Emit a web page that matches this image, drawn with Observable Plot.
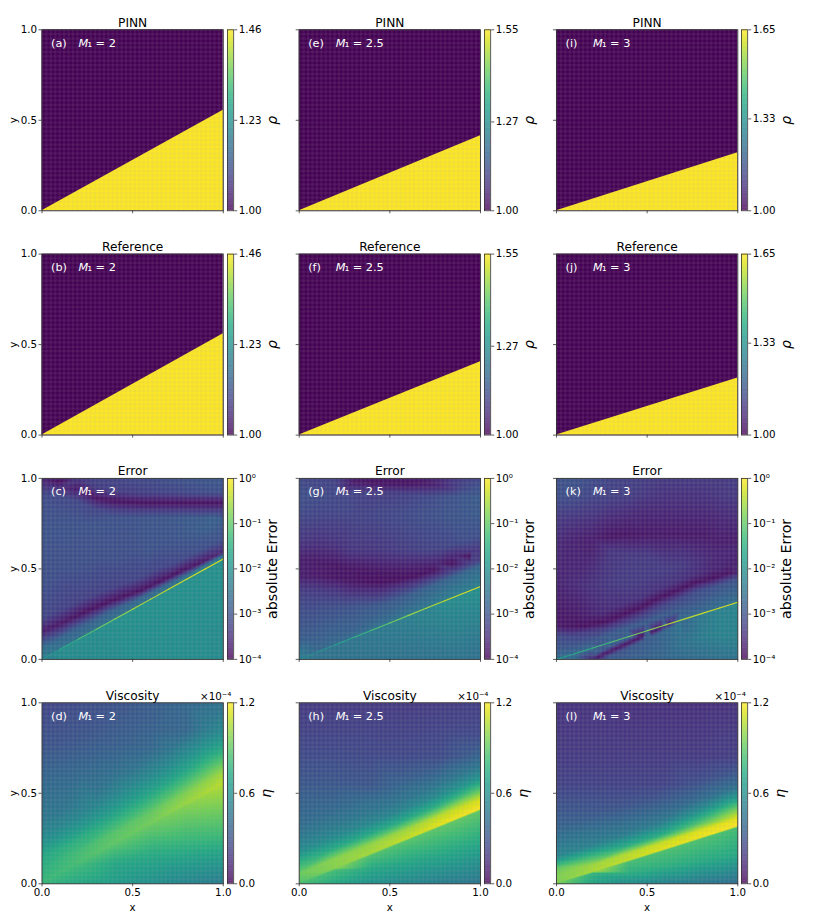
<!DOCTYPE html>
<html><head><meta charset="utf-8">
<script src="https://cdn.jsdelivr.net/npm/d3@7"></script>
<script src="https://cdn.jsdelivr.net/npm/@observablehq/plot@0.6"></script>
<style>
html,body{margin:0;padding:0;background:#fff}
#chart{position:relative;width:830px;height:913px;overflow:hidden;font-family:"DejaVu Sans",sans-serif}
#chart svg{position:absolute;overflow:visible}
</style></head><body><div id="chart"></div>
<script>
// ---- layout text ----
const columnMach = ["2", "2.5", "3"];
const panelLetters = [["a","b","c","d"],["e","f","g","h"],["i","j","k","l"]];
const rowTitles = ["PINN","Reference","Error","Viscosity"];
const axisTicks = [0, 0.5, 1];

// ---- density panels ----
const pinnShock = [0.555, 0.415, 0.32];
const referenceShock = [0.56, 0.405, 0.315];
const rhoMax = [1.46, 1.55, 1.65];
const rhoTicks = [[1.00,1.23,1.46],[1.00,1.27,1.55],[1.00,1.33,1.65]];

// ---- error panels: log10(absolute error), sampled in columns ----
const errorX = [0,.1,.2,.3,.4,.5,.6,.7,.8,.9,1];
const errorShock = [0.555, 0.403, 0.316];
const errorTicks = [-4,-3,-2,-1,0];
const errorTickText = ["10⁻⁴","10⁻³","10⁻²","10⁻¹","10⁰"];

const errorRowsC = [
 [.05,-2.55,.115,-3.6,.18,-3.15,.4,-3.05,.7,-3,.9,-3.1,.96,-3.4,1,-3.6],
 [.1,-2.7,.17,-3.75,.24,-3.2,.5,-3.05,.75,-3,.9,-3.15,.95,-3.5,.99,-3.9],
 [.16,-2.8,.215,-3.8,.28,-3.25,.5,-3.05,.75,-3,.87,-3.15,.94,-3.75,1,-3.4],
 [.21,-2.8,.265,-3.85,.33,-3.25,.55,-3.05,.75,-3,.83,-3.2,.89,-3.8,.95,-3.3,1,-3.2],
 [.265,-2.8,.31,-3.85,.37,-3.25,.55,-3.05,.78,-3,.825,-3.3,.875,-3.85,.93,-3.3,1,-3.2],
 [.31,-2.75,.35,-3.85,.41,-3.25,.6,-3.05,.78,-3,.82,-3.3,.87,-3.85,.92,-3.3,1,-3.15],
 [.36,-2.7,.39,-3.85,.45,-3.2,.6,-3,.78,-2.95,.82,-3.3,.865,-3.85,.92,-3.25,1,-3.1],
 [.41,-2.65,.44,-3.85,.5,-3.2,.65,-3,.78,-2.95,.82,-3.3,.865,-3.85,.92,-3.2,1,-3.05],
 [.46,-2.6,.49,-3.85,.54,-3.15,.68,-2.95,.78,-2.9,.82,-3.3,.865,-3.85,.92,-3.15,1,-3],
 [.515,-2.6,.535,-3.8,.59,-3.1,.7,-2.9,.78,-2.85,.82,-3.3,.865,-3.85,.92,-3.1,1,-2.95],
 [.57,-2.6,.585,-3.6,.64,-3.05,.72,-2.85,.78,-2.8,.82,-3.3,.865,-3.85,.92,-3.05,1,-2.9]
];
const errorAboveC = [-2.3,-2.5,-2.55,-2.55,-2.55,-2.55,-2.55,-2.55,-2.5,-2.5,-2.5];
const errorBelowC = [-2.15,-2.05,-2.05,-2.05,-2,-2,-2,-2,-2,-2,-2];
const errorFloorC = [-2.15,-2.1,-2.1,-2.1,-2.1,-2.05,-2.05,-2.05,-2.05,-2.05,-2.1];
const errorLineC = [-2,-1.6,-1.2,-.9,-.7,-.5,-.4,-.3,-.25,-.2,-.2];

const errorRowsG = [
 [.1,-2.85,.25,-3.05,.38,-3.3,.46,-3.7,.55,-3.7,.65,-3.4,.8,-3.15,.9,-3.05,1,-3.15],
 [.12,-2.85,.28,-3.1,.38,-3.35,.46,-3.75,.54,-3.75,.65,-3.45,.8,-3.2,.9,-3.1,1,-3.2],
 [.14,-2.8,.28,-3.05,.38,-3.4,.45,-3.8,.52,-3.8,.63,-3.45,.8,-3.2,.9,-3.15,1,-3.25],
 [.16,-2.8,.28,-3,.36,-3.4,.43,-3.8,.5,-3.8,.6,-3.4,.8,-3.2,.92,-3.2,.98,-3.75,1,-3.7],
 [.2,-2.75,.29,-2.95,.36,-3.4,.43,-3.85,.49,-3.8,.6,-3.4,.8,-3.2,.92,-3.3,.98,-3.85,1,-3.75],
 [.24,-2.7,.3,-2.9,.36,-3.4,.425,-3.85,.48,-3.8,.6,-3.35,.8,-3.15,.92,-3.3,.975,-3.85,1,-3.7],
 [.28,-2.65,.34,-2.9,.39,-3.4,.44,-3.85,.49,-3.75,.6,-3.3,.8,-3.1,.91,-3.25,.975,-3.85,1,-3.7],
 [.32,-2.6,.38,-2.85,.42,-3.4,.46,-3.85,.51,-3.7,.6,-3.25,.8,-3.05,.9,-3.15,.97,-3.75,1,-3.7],
 [.37,-2.55,.42,-2.8,.45,-3.3,.49,-3.85,.53,-3.65,.62,-3.2,.8,-3,.9,-3.05,.95,-3.5,1,-3.5],
 [.41,-2.5,.46,-2.75,.49,-3.3,.53,-3.85,.57,-3.6,.65,-3.1,.8,-2.95,.9,-2.95,.95,-3.2,1,-3.3],
 [.45,-2.5,.5,-2.7,.53,-3.3,.57,-3.85,.6,-3.4,.68,-3.05,.8,-2.9,.9,-2.9,.95,-3,1,-3.2]
];
const errorAboveG = [-2.3,-2.7,-2.65,-2.6,-2.55,-2.5,-2.45,-2.4,-2.35,-2.3,-2.3];
const errorBelowG = [-2.3,-2.5,-2.5,-2.45,-2.4,-2.35,-2.3,-2.2,-2.1,-2.05,-2];
const errorFloorG = [-2.5,-2.5,-2.5,-2.5,-2.5,-2.5,-2.5,-2.5,-2.5,-2.5,-2.55];
const errorLineG = [-2.2,-2,-1.7,-1.4,-1.1,-.9,-.6,-.45,-.3,-.2,-.2];

const errorRowsK = [
 [.05,-2.9,.13,-3.1,.19,-3.7,.27,-3.75,.45,-3.6,.65,-3.55,.8,-3.3,.9,-3.05,1,-3],
 [.07,-2.95,.13,-3.2,.18,-3.8,.25,-3.75,.42,-3.55,.66,-3.65,.8,-3.35,.9,-3.1,1,-3],
 [.1,-2.95,.15,-3.3,.185,-3.85,.24,-3.7,.4,-3.45,.67,-3.7,.8,-3.4,.9,-3.2,1,-3.1],
 [.14,-2.9,.17,-3.3,.205,-3.85,.26,-3.55,.42,-3.35,.6,-3.4,.68,-3.8,.8,-3.5,.9,-3.25,1,-3.2],
 [.17,-2.85,.205,-3.3,.245,-3.85,.3,-3.5,.44,-3.3,.58,-3.35,.69,-3.8,.8,-3.55,.9,-3.3,1,-3.25],
 [.2,-2.85,.245,-3.3,.285,-3.85,.34,-3.45,.47,-3.3,.58,-3.35,.69,-3.75,.8,-3.6,.9,-3.4,1,-3.3],
 [.24,-2.85,.29,-3.25,.335,-3.85,.39,-3.45,.5,-3.3,.58,-3.45,.69,-3.75,.8,-3.6,.9,-3.45,1,-3.35],
 [.27,-2.85,.33,-3.2,.375,-3.85,.43,-3.45,.52,-3.35,.6,-3.5,.69,-3.75,.8,-3.6,.9,-3.45,1,-3.35],
 [.3,-2.85,.37,-3.1,.42,-3.85,.47,-3.5,.55,-3.5,.62,-3.6,.69,-3.75,.8,-3.6,.9,-3.45,1,-3.35],
 [.33,-2.75,.4,-3.05,.445,-3.85,.5,-3.6,.58,-3.6,.66,-3.7,.8,-3.55,.9,-3.4,1,-3.35],
 [.35,-2.7,.43,-3,.475,-3.8,.52,-3.65,.6,-3.6,.66,-3.7,.8,-3.5,.9,-3.35,1,-3.3]
];
const errorAboveK = [-2.6,-2.7,-2.7,-2.7,-2.75,-2.8,-2.75,-2.7,-2.65,-2.6,-2.55];
const errorBelowK = [-2.6,-2.7,-2.7,-2.7,-2.75,-2.9,-3.4,-2.7,-2.4,-2.25,-2.15];
const errorFloorK = [-2.6,-2.6,-3.6,-2.85,-2.8,-2.75,-2.7,-2.65,-2.6,-2.55,-2.5];
const errorStripeK = [
  [.22,.009,-3.8],[.27,.033,-3.8],[.32,.056,-3.8],[.37,.079,-3.85],[.42,.102,-3.85],[.47,.126,-3.85],[.52,.149,-3.85],[.57,.172,-3.8],[.62,.195,-3.6],
  [.21,.031,-2.9],[.26,.055,-2.95],[.31,.078,-2.95],[.36,.101,-2.95],[.41,.12,-2.95],
  [.28,.012,-2.95],[.33,.034,-3],[.38,.057,-3],[.43,.08,-2.95],[.48,.104,-2.9],[.53,.127,-2.85],[.58,.15,-2.75],[.63,.173,-2.65],[.68,.2,-2.5],
  [.7,.1,-2.5],[.8,.12,-2.35],[.9,.13,-2.25],[1,.13,-2.25]];
const errorLineK = [-1.8,-1.5,-1.3,-1.1,-.9,-.7,-.5,-.4,-.3,-.2,-.2];

// ---- viscosity panels: eta in units of 1e-4 ----
// each layer: [height above the shock, value at every etaX]; far rows: [y, value at every etaX]
const etaX = [0,.2,.4,.6,.8,1];
const etaShock = [0.55, 0.41, 0.316];
const etaTicks = [0, 0.6, 1.2];

const etaLayersD = [
 [.0035,.8,.84,.9,.94,1.02,1.08],
 [.05,.76,.82,.87,.9,.96,1.02],
 [.1,.72,.76,.76,.78,.82,.88],
 [.15,.66,.64,.64,.66,.68,.74],
 [.2,.6,.55,.55,.57,.58,.62],
 [.3,.5,.46,.45,.46,.47,.5]
];
const etaFarD = [[.6,.38,.4,.43,.45,.46,.47],[.75,.31,.33,.36,.39,.43,.47],[.85,.28,.3,.33,.36,.39,.43],[1,.24,.27,.3,.34,.39,.45]];
const etaBelowD = [.78,.82,.88,.92,.98,1.06];
const etaMidD = [.78,.72,.72,.74,.78,.82];
const etaFloorD = [.78,.72,.66,.6,.54,.5];

const etaLayersH = [
 [.0035,.85,.98,1.04,1.1,1.17,1.2],
 [.05,.92,.98,1,1.02,1.08,1.12],
 [.1,.78,.74,.72,.72,.76,.85],
 [.15,.6,.58,.56,.54,.56,.62],
 [.2,.52,.5,.48,.46,.46,.48],
 [.3,.42,.41,.4,.37,.34,.33]
];
const etaFarH = [[.55,.32,.32,.31,.3,.3,.3],[.7,.27,.27,.26,.26,.27,.29],[.85,.23,.23,.23,.23,.24,.25],[1,.2,.2,.2,.2,.21,.22]];
const etaBelowH = [.78,.84,.86,.88,.9,.9];
const etaMidH = [.8,.72,.72,.72,.72,.7];
const etaFloorH = [.78,.72,.6,.55,.5,.46];

const etaLayersL = [
 [.0035,.96,1.05,1.1,1.16,1.18,1.2],
 [.04,.96,1.02,1.06,1.1,1.14,1.16],
 [.08,.9,.82,.74,.74,.85,.98],
 [.14,.55,.52,.5,.5,.58,.68],
 [.2,.48,.46,.42,.4,.4,.44],
 [.3,.38,.34,.3,.28,.28,.29]
];
const etaFarL = [[.55,.23,.23,.23,.23,.24,.25],[.7,.2,.2,.2,.2,.2,.22],[1,.17,.17,.16,.16,.16,.17]];
const etaBelowL = [.76,.78,.84,.86,.86,.84];
const etaMidL = [.8,.74,.76,.76,.74,.72];
const etaFloorL = [.74,.7,.58,.52,.47,.42];

// ---- sample placement: near the shock a column leans along the shock normal ----
const EPS = 0.0035;
function leanWeight(d, d0, d1) {
  return d <= 0 ? 0 : d <= d0 ? 1 : d >= d1 ? 0 : (d1 - d) / (d1 - d0);
}
function errorSamples(s, rows, above, below, floor, extra) {
  const out = [];
  const put = (x, y, v) => {
    const d = y - s * x;
    out.push({x: x - s * d * leanWeight(d, .15, .28), y, v});
  };
  const last = errorX.length - 1;
  [...errorX, 1.2].forEach((x, j) => {
    const i = Math.min(j, last), r = rows[i], x0 = errorX[i];
    for (let k = 0; k < r.length; k += 2) {
      const d = r[k] - s * x0;
      const lift = (x - x0) * s * leanWeight(d, .15, .28);
      put(x, r[k] + lift, r[k + 1]);
    }
    put(x, s * x + EPS, above[i]);
    out.push({x, y: s * x - EPS, v: below[i]});
    if (x > 0) out.push({x, y: 0, v: floor[i]});
  });
  (extra || []).forEach(([x, y, v]) => out.push({x, y, v}));
  return out;
}
function etaSamples(s, layers, far, below, mid, floor) {
  const out = [];
  const put = (x, y, v) => {
    const d = y - s * x;
    out.push({x: x - s * d * leanWeight(d, .22, .4), y, v});
  };
  const last = etaX.length - 1;
  [...etaX, 1.2].forEach((x, j) => {
    const i = Math.min(j, last);
    layers.forEach(row => put(x, s * x + row[0], row[i + 1]));
    far.forEach(row => { if (row[0] - s * x > .36) put(x, row[0], row[i + 1]); });
    out.push({x, y: s * x - EPS, v: below[i]});
    if (i >= 2) out.push({x, y: s * x * .5, v: mid[i]});
    if (x > 0) out.push({x, y: 0, v: floor[i]});
  });
  return out;
}
const errorFields = [
  errorSamples(errorShock[0], errorRowsC, errorAboveC, errorBelowC, errorFloorC),
  errorSamples(errorShock[1], errorRowsG, errorAboveG, errorBelowG, errorFloorG),
  errorSamples(errorShock[2], errorRowsK, errorAboveK, errorBelowK, errorFloorK, errorStripeK)
];
const errorLines = [errorLineC, errorLineG, errorLineK];
const etaFields = [
  etaSamples(etaShock[0], etaLayersD, etaFarD, etaBelowD, etaMidD, etaFloorD),
  etaSamples(etaShock[1], etaLayersH, etaFarH, etaBelowH, etaMidH, etaFloorH),
  etaSamples(etaShock[2], etaLayersL, etaFarL, etaBelowL, etaMidL, etaFloorL)
];

// ---- geometry ----
const colLeft = [41.5, 298.7, 556];
const rowTop = [29.3, 253.6, 477.9, 702.3];
const panelW = 181.3, panelH = 181;
const meshLines = d3.range(0, 42).map(i => i / 41);
const chart = document.getElementById("chart");
const FONT = '"DejaVu Sans", sans-serif';

function place(svgNode, left, top) {
  svgNode.style.left = left + "px";
  svgNode.style.top = top + "px";
  chart.appendChild(svgNode);
}

function panel(c, r, domain, fieldMarks) {
  const mL = 42 + (colLeft[c] % 1), mT = 30 + (rowTop[r] % 1);
  const mR = 3, mB = 32;
  const left = Math.floor(colLeft[c]) - 42, top = Math.floor(rowTop[r]) - 30;
  const showY = c === 0, showX = r === 3;
  const label = `(${panelLetters[c][r]})`;
  const note = {frameAnchor: "top-left", fill: "white", fontSize: 11.3, stroke: "none"};
  const svg = Plot.plot({
    width: mL + panelW + mR, height: mT + panelH + mB,
    marginLeft: mL, marginRight: mR, marginTop: mT, marginBottom: mB,
    style: {background: "transparent", fontFamily: FONT, overflow: "visible"},
    x: {domain: [0, 1], axis: null}, y: {domain: [0, 1], axis: null},
    color: {type: "linear", scheme: "viridis", domain},
    marks: [
      ...fieldMarks,
      Plot.ruleX(meshLines, {stroke: "#aaa", strokeOpacity: 0.085, strokeWidth: 2.2}),
      Plot.ruleY(meshLines, {stroke: "#aaa", strokeOpacity: 0.085, strokeWidth: 2.2}),
      Plot.frame({stroke: "#333", strokeWidth: 0.9}),
      Plot.axisX(axisTicks, {anchor: "bottom", tickSize: 3, tickPadding: 2, fontSize: 10.3, stroke: "#333", strokeWidth: 0.8,
        tickFormat: showX ? (d => d.toFixed(1)) : (() => null), label: showX ? "x" : null, labelAnchor: "center", labelArrow: "none", labelOffset: 27}),
      Plot.axisY(axisTicks, {anchor: "left", tickSize: 3, tickPadding: 2, fontSize: 10.3, stroke: "#333", strokeWidth: 0.8,
        tickFormat: showY ? (d => d.toFixed(1)) : (() => null), label: null}),
      ...(showY ? [Plot.text(["y"], {frameAnchor: "left", textAnchor: "middle", dx: -28, fontSize: 10.3, rotate: -90, fill: "#000"})] : []),
      Plot.text([rowTitles[r]], {frameAnchor: "top", dy: -11.7, fontSize: 12.2, fill: "#000"}),
      Plot.text([label], {...note, textAnchor: "start", dx: 9, dy: 9}),
      Plot.text(["M"], {...note, textAnchor: "start", dx: 36.5, dy: 9, fontStyle: "italic"}),
      Plot.text([`₁ = ${columnMach[c]}`], {...note, textAnchor: "start", dx: 45.5, dy: 9}),
      ...(r === 3 ? [Plot.text(["×10⁻⁴"], {frameAnchor: "top-right", dy: -10, dx: 8, fontSize: 10.3, fill: "#000"})] : [])
    ]
  });
  place(svg, left, top);
}

function colorbar(c, r, domain, ticks, tickText, title, titleSize, titleOffset, italic) {
  const mL = 0, mT = 8 + (rowTop[r] % 1), mB = 8, mR = 70;
  const barLeft = colLeft[c] + panelW + 4;
  const left = barLeft, top = Math.floor(rowTop[r]) - 8;
  const steps = d3.range(256).map(i => i / 256);
  const [d0, d1] = domain;
  const svg = Plot.plot({
    width: 6.2 + mR, height: mT + panelH + mB,
    marginLeft: mL, marginRight: mR, marginTop: mT, marginBottom: mB,
    style: {background: "transparent", fontFamily: FONT, overflow: "visible"},
    x: {domain: [0, 1], axis: null},
    y: {domain: [d0, d1], axis: null},
    color: {type: "linear", scheme: "viridis", domain},
    marks: [
      Plot.rect(steps, {x1: 0, x2: 1, y1: t => d0 + t * (d1 - d0), y2: t => d0 + (t + 1 / 255) * (d1 - d0), fill: t => d0 + t * (d1 - d0)}),
      Plot.frame({stroke: "#333", strokeWidth: 0.8}),
      Plot.axisY(ticks, {anchor: "right", tickSize: 3, tickPadding: 2, fontSize: 10.3, stroke: "#333", strokeWidth: 0.8,
        tickFormat: tickText, label: null}),
      Plot.text([title], {frameAnchor: "right", textAnchor: "middle", dx: titleOffset - 6.2, fontSize: titleSize, rotate: -90, fill: "#000", fontStyle: italic ? "italic" : "normal"})
    ]
  });
  place(svg, left, top);
}

columnMach.forEach((_, c) => {
  // PINN and Reference density
  [pinnShock, referenceShock].forEach((shock, r) => {
    const domain = [1, rhoMax[c]];
    const region = [{x: 0, y: 0, v: rhoMax[c]}, {x: 1, y: shock[c], v: rhoMax[c]}];
    panel(c, r, domain, [
      Plot.rect([1], {x1: 0, x2: 1, y1: 0, y2: 1, fill: d => d}),
      Plot.areaY(region, {x: "x", y: "y", fill: "v"})
    ]);
    colorbar(c, r, domain, rhoTicks[c], d => d.toFixed(2), "ρ", 14, 45, true);
  });
  // Error
  const line = errorX.map((x, i) => ({x, y: errorShock[c] * x, v: errorLines[c][i]}));
  panel(c, 2, [-4, 0], [
    Plot.raster(errorFields[c], {x: "x", y: "y", fill: "v", interpolate: "barycentric"}),
    Plot.line(line, {x: "x", y: "y", stroke: "v", strokeWidth: 1.1, z: null})
  ]);
  colorbar(c, 2, [-4, 0], errorTicks, d => errorTickText[errorTicks.indexOf(d)], "absolute Error", 14.2, 45, false);
  // Viscosity
  panel(c, 3, [0, 1.2], [
    Plot.raster(etaFields[c], {x: "x", y: "y", fill: "v", interpolate: "barycentric"})
  ]);
  colorbar(c, 3, [0, 1.2], etaTicks, d => d.toFixed(1), "η", 14, 39.5, true);
});
</script></body></html>
